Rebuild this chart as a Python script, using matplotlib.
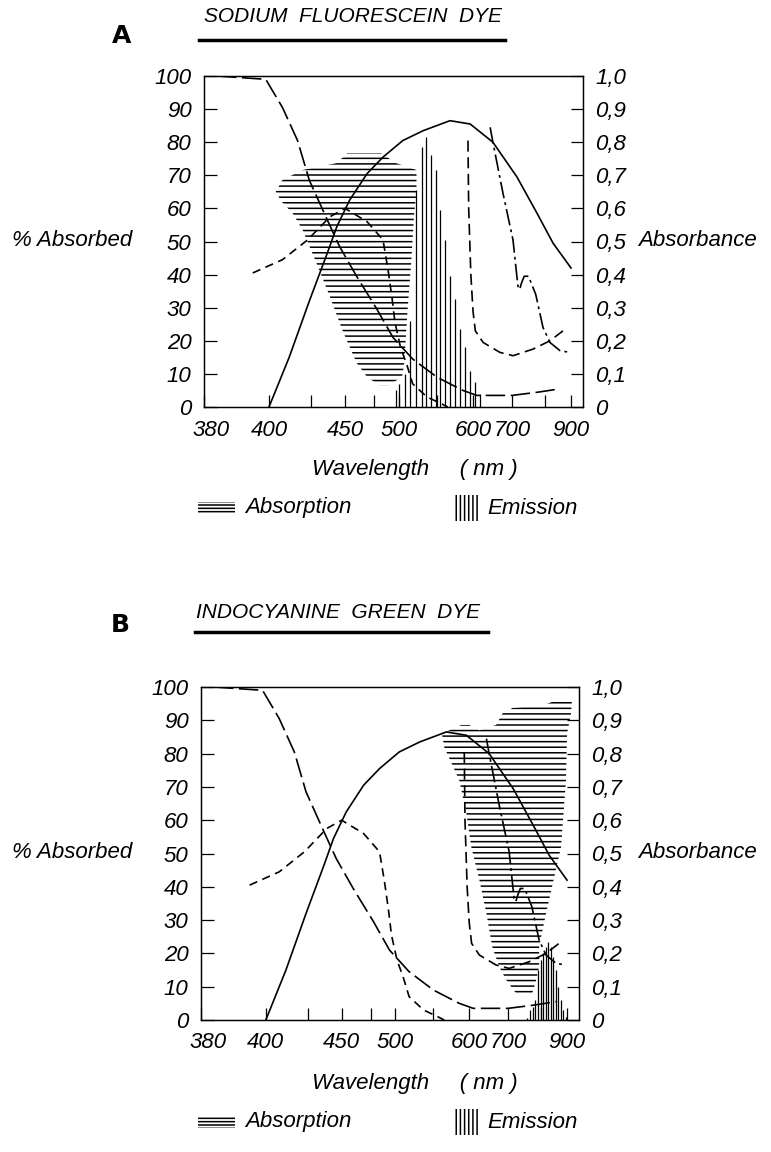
import numpy as np
import matplotlib
matplotlib.use("Agg")
import matplotlib.pyplot as plt
from matplotlib import font_manager
from matplotlib.lines import Line2D
from matplotlib.patches import Rectangle
from matplotlib.ticker import FixedLocator, FixedFormatter
from matplotlib.transforms import ScaledTranslation

# curves drawn in both panels (wavelength in nm, % absorbed)
long_dash_wl = [384, 399, 408, 417, 424, 437, 446, 460, 478, 494, 518, 550, 586, 610, 700, 780, 858]
long_dash_val = [100, 99, 90.5, 80.5, 68.5, 56.5, 48.5, 39.5, 29.5, 21, 14.5, 9, 5, 3.5, 3.5, 4.5, 5.5]

solid_wl = [400, 412, 424, 437, 444, 454, 469, 484, 505, 532, 568, 596, 651, 715, 776, 831, 900]
solid_val = [0, 15, 32, 46.5, 54.5, 62.5, 70.5, 75.5, 80.5, 83.5, 86.5, 85.5, 80, 69.5, 58.5, 49.5, 42]

short_dash_wl = [395, 408, 423, 439, 450, 469, 484, 489, 493, 496, 502, 510, 518, 537, 556, 565]
short_dash_val = [40.5, 44.5, 50.5, 57.5, 60, 56, 50.5, 41.5, 33, 25.5, 18, 13, 7, 3, 1, 0]

drop_dash_wl = [593, 594, 597, 600, 606, 626, 669, 703, 764, 819, 869]
drop_dash_val = [80.5, 60, 40, 29, 23, 19.5, 16.5, 15.5, 17.5, 20, 23]

dash_dot_wl = [644, 651, 677, 703, 712, 718, 723, 729, 737, 750, 760, 772, 794, 819, 858, 896]
dash_dot_val = [84.5, 80, 64.5, 50.5, 42, 36.5, 35.5, 37.5, 39.5, 39.5, 37, 34, 24, 19.5, 17, 16.5]

# sodium fluorescein
fluo_abs_wl = [404, 408, 420, 444, 452, 482, 497, 523, 523, 520, 516, 511, 507, 504, 490,
               480, 469, 460, 448, 439, 429, 420, 414, 407.6]
fluo_abs_val = [65, 68.6, 71.6, 73.7, 76.7, 76.7, 73.7, 71.6, 65, 58.6, 43.5, 28.4, 13.3, 9.1, 6.6,
                6.6, 9.1, 13.3, 23.3, 33.2, 43.5, 53.5, 58.6, 62]
fluo_em_wl = [497, 500, 508, 514, 522, 530, 536, 542, 549, 554, 561, 568, 575, 582, 589, 596, 605, 618]
fluo_em_val = [5, 7, 10, 26, 65.5, 78.5, 81.5, 76, 71.5, 59.5, 50.5, 39.5, 32.5, 23.5, 18, 11, 7.5, 4]

# indocyanine green
icg_abs_wl = [562, 589, 600, 626, 669, 685, 713, 812, 881, 919, 915, 900, 896, 877, 819, 794, 794,
              785, 773, 724, 695, 677, 659, 644, 626, 605, 596, 586, 565]
icg_abs_val = [86, 88.6, 88.6, 87, 88.6, 92, 93.7, 94.6, 96.7, 96.7, 92, 86, 72, 52, 32, 22, 16,
               12, 8, 8, 12, 16, 22, 32, 42, 52, 62, 72, 82]
icg_em_wl = [758, 767, 776, 782, 791, 800, 808, 819, 827, 838, 846, 858, 865, 877, 885, 896]
icg_em_val = [0.6, 3, 4, 6, 15, 18, 20, 22, 23.5, 22, 19, 15, 10, 6, 3, 1]

left_ticks = list(range(0, 101, 10))
right_ticks = [i / 10 for i in range(11)]
right_labels = ["0"] + ["0,%d" % i for i in range(1, 10)] + ["1,0"]
x_major = [380, 400, 450, 500, 600, 700, 900]
x_minor = [425, 475, 550, 800]

# the wavelength axis of the original is stretched unevenly
SCALE_WL = [380, 400, 425, 450, 475, 500, 550, 600, 700, 800, 900, 945]
SCALE_POS = [0, 65, 107, 141, 170, 195, 233, 269, 308, 341, 367, 379]


def wl_to_pos(x):
    return np.interp(x, SCALE_WL, SCALE_POS)


def pos_to_wl(p):
    return np.interp(p, SCALE_POS, SCALE_WL)


names = {f.name for f in font_manager.fontManager.ttflist}
FONT = next((n for n in ["Liberation Sans Narrow", "DejaVu Sans Condensed", "Liberation Sans"] if n in names),
            "DejaVu Sans")
plt.rcParams["font.family"] = [FONT, "DejaVu Sans"]
plt.rcParams["font.style"] = "italic"
plt.rcParams["lines.scale_dashes"] = False
plt.rcParams["hatch.linewidth"] = 1.1

W, H = 771, 1152
fig = plt.figure(figsize=(W / 100, H / 100), dpi=100)


def fx(x):
    return x / W


def fy(y):
    return 1 - y / H


def panel(left, top, right, bottom, abs_wl, abs_val, em_wl, em_val):
    ax = fig.add_axes([fx(left), fy(bottom), (right - left) / W, (bottom - top) / H])
    ax.set_xscale("function", functions=(wl_to_pos, pos_to_wl))
    ax.set_xlim(380, 945)
    ax.set_ylim(0, 100)

    ax.fill(abs_wl, abs_val, facecolor="none", edgecolor="black", linewidth=0, hatch="---")
    ax.vlines(em_wl, 0, em_val, color="black", linewidth=0.9)

    ax.plot(long_dash_wl, long_dash_val, color="black", lw=1.2, dashes=(14, 4))
    ax.plot(solid_wl, solid_val, color="black", lw=1.2)
    ax.plot(short_dash_wl, short_dash_val, color="black", lw=1.2, dashes=(6, 4))
    ax.plot(drop_dash_wl, drop_dash_val, color="black", lw=1.2, dashes=(8, 4))
    ax.plot(dash_dot_wl, dash_dot_val, color="black", lw=1.2, dashes=(12, 3, 2, 3))

    ax.xaxis.set_major_locator(FixedLocator(x_major))
    ax.xaxis.set_major_formatter(FixedFormatter([str(v) for v in x_major]))
    ax.xaxis.set_minor_locator(FixedLocator(x_minor))
    ax.set_yticks(left_ticks, [str(v) for v in left_ticks])
    ax.tick_params(which="both", direction="in", length=9, width=0.9, labelsize=16, pad=9, top=False)

    ax2 = ax.twinx()
    ax2.set_ylim(0, 1)
    ax2.set_yticks(right_ticks, right_labels)
    ax2.tick_params(direction="in", length=9, width=0.9, labelsize=16, pad=9)
    for a in (ax, ax2):
        for s in a.spines.values():
            s.set_linewidth(0.9)
    # the "380" label sits a little right of the axis corner
    first = ax.xaxis.get_major_ticks()[0].label1
    first.set_transform(first.get_transform() + ScaledTranslation(7 / 100, 0, fig.dpi_scale_trans))
    return ax


def header(letter, lx, ly, title, tx, ty, ux0, ux1, uy):
    fig.text(fx(lx), fy(ly), letter, fontsize=18, fontweight="bold", style="normal",
             family="DejaVu Sans", ha="center", va="center")
    fig.text(fx(tx), fy(ty), title, fontsize=15, ha="center", va="center")
    fig.add_artist(Line2D([fx(ux0), fx(ux1)], [fy(uy), fy(uy)], color="black", lw=2.5))


def side_labels(y):
    fig.text(fx(72), fy(y), "% Absorbed", fontsize=16, ha="center", va="center")
    fig.text(fx(697), fy(y), "Absorbance", fontsize=16, ha="center", va="center")


def legend_row(ywave, yleg):
    fig.text(fx(415), fy(ywave), "Wavelength     ( nm )", fontsize=16, ha="center", va="center")
    fig.add_artist(Rectangle((fx(198), fy(yleg + 6)), 37 / W, 12 / H, transform=fig.transFigure,
                             facecolor="none", edgecolor="black", lw=0, hatch="-----"))
    fig.text(fx(245), fy(yleg), "Absorption", fontsize=16, ha="left", va="center")
    fig.add_artist(Rectangle((fx(455), fy(yleg + 13)), 23 / W, 26 / H, transform=fig.transFigure,
                             facecolor="none", edgecolor="black", lw=0, hatch="||||"))
    fig.text(fx(487), fy(yleg), "Emission", fontsize=16, ha="left", va="center")


# panel A
header("A", 122, 36, "SODIUM  FLUORESCEIN  DYE", 353, 17, 199, 505, 40)
panel(204, 76, 583, 407, fluo_abs_wl, fluo_abs_val, fluo_em_wl, fluo_em_val)
side_labels(241)
legend_row(470, 508)

# panel B
header("B", 120, 625, "INDOCYANINE  GREEN  DYE", 338, 613, 195, 488, 632)
panel(201, 687, 579, 1020, icg_abs_wl, icg_abs_val, icg_em_wl, icg_em_val)
side_labels(853)
legend_row(1084, 1122)

fig.savefig("out.png", dpi=100, facecolor="white")
